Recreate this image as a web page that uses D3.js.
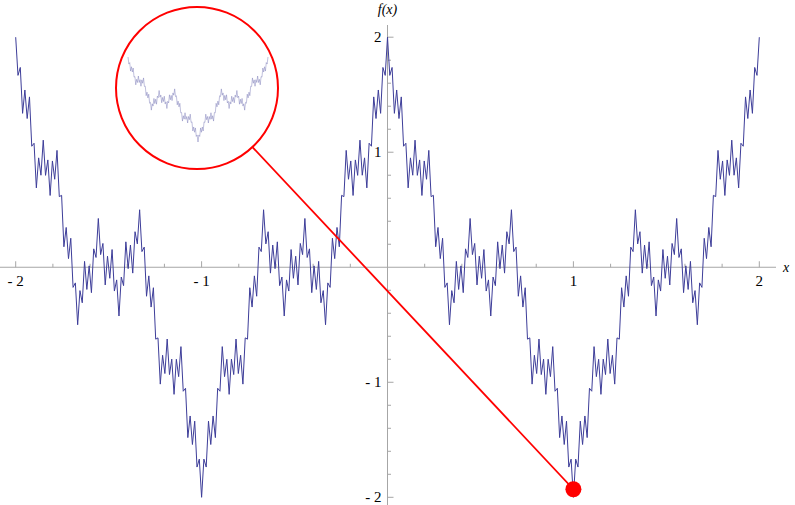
<!DOCTYPE html>
<html>
<head>
<meta charset="utf-8">
<script src="https://cdn.jsdelivr.net/npm/d3@7"></script>
<style>
  body { margin: 0; background: #fff; }
  svg { display: block; }
</style>
</head>
<body>
<svg id="chart" width="795" height="505"></svg>
<script>
// curve values, sampled every 1/81 along x
const xStart = -2;
const xStep = 1 / 81;
// x = -2 ... -1
const segA = [2.000,1.668,1.737,1.338,1.541,1.293,1.481,1.052,1.078,0.690,0.951,0.800,1.105,0.799,0.933,0.624,0.924,0.765,1.016,0.614,0.625,0.178,0.346,0.075,0.252,-0.175,-0.136,-0.500,-0.203,-0.309,0.051,-0.193,0.012,-0.221,0.160,0.085,0.424,0.110,0.207,-0.154,0.096,-0.096,0.154,-0.207,-0.110,-0.424,-0.085,-0.160,0.221,-0.012,0.193,-0.051,0.309,0.203,0.500,0.136,0.175,-0.252,-0.075,-0.346,-0.178,-0.625,-0.614,-1.016,-0.765,-0.924,-0.624,-0.933,-0.799,-1.105,-0.800,-0.951,-0.690,-1.078,-1.052,-1.481,-1.293,-1.541,-1.338,-1.737,-1.668,-2.000];
// x = -1+1/81 ... 0
const segB = [-1.668,-1.737,-1.338,-1.541,-1.293,-1.481,-1.052,-1.078,-0.690,-0.951,-0.800,-1.105,-0.799,-0.933,-0.624,-0.924,-0.765,-1.016,-0.614,-0.625,-0.178,-0.346,-0.075,-0.252,0.175,0.136,0.500,0.203,0.309,-0.051,0.193,-0.012,0.221,-0.160,-0.085,-0.424,-0.110,-0.207,0.154,-0.096,0.096,-0.154,0.207,0.110,0.424,0.085,0.160,-0.221,0.012,-0.193,0.051,-0.309,-0.203,-0.500,-0.136,-0.175,0.252,0.075,0.346,0.178,0.625,0.614,1.016,0.765,0.924,0.624,0.933,0.799,1.105,0.800,0.951,0.690,1.078,1.052,1.481,1.293,1.541,1.338,1.737,1.668,2.000];
// x = 1/81 ... 1
const segC = [1.668,1.737,1.338,1.541,1.293,1.481,1.052,1.078,0.690,0.951,0.800,1.105,0.799,0.933,0.624,0.924,0.765,1.016,0.614,0.625,0.178,0.346,0.075,0.252,-0.175,-0.136,-0.500,-0.203,-0.309,0.051,-0.193,0.012,-0.221,0.160,0.085,0.424,0.110,0.207,-0.154,0.096,-0.096,0.154,-0.207,-0.110,-0.424,-0.085,-0.160,0.221,-0.012,0.193,-0.051,0.309,0.203,0.500,0.136,0.175,-0.252,-0.075,-0.346,-0.178,-0.625,-0.614,-1.016,-0.765,-0.924,-0.624,-0.933,-0.799,-1.105,-0.800,-0.951,-0.690,-1.078,-1.052,-1.481,-1.293,-1.541,-1.338,-1.737,-1.668,-2.000];
// x = 1+1/81 ... 2
const segD = [-1.668,-1.737,-1.338,-1.541,-1.293,-1.481,-1.052,-1.078,-0.690,-0.951,-0.800,-1.105,-0.799,-0.933,-0.624,-0.924,-0.765,-1.016,-0.614,-0.625,-0.178,-0.346,-0.075,-0.252,0.175,0.136,0.500,0.203,0.309,-0.051,0.193,-0.012,0.221,-0.160,-0.085,-0.424,-0.110,-0.207,0.154,-0.096,0.096,-0.154,0.207,0.110,0.424,0.085,0.160,-0.221,0.012,-0.193,0.051,-0.309,-0.203,-0.500,-0.136,-0.175,0.252,0.075,0.346,0.178,0.625,0.614,1.016,0.765,0.924,0.624,0.933,0.799,1.105,0.800,0.951,0.690,1.078,1.052,1.481,1.293,1.541,1.338,1.737,1.668,2.000];

const xTicks = [-2, -1, 1, 2];
const yTicks = [-2, -1, 1, 2];
const zoomSpot = { x: 1, y: -1.93 };

const width = 795, height = 505;
const serif = "'Liberation Serif', 'DejaVu Serif', serif";
const svg = d3.select("#chart");

const x = d3.scaleLinear().domain([-2, 2]).range([15.7, 759.3]);
const y = d3.scaleLinear().domain([-2, 2]).range([497.3, 37.2]);

const points = segA.concat(segB, segC, segD).map((v, i) => ({ x: xStart + i * xStep, y: v }));

const axisColor = "#a6a6a6";
const fmt = v => v < 0 ? "- " + Math.abs(v) : String(v);

// axes
svg.append("line")
    .attr("x1", 0).attr("x2", 776)
    .attr("y1", y(0)).attr("y2", y(0))
    .attr("stroke", axisColor).attr("stroke-width", 1);
svg.append("line")
    .attr("x1", x(0)).attr("x2", x(0))
    .attr("y1", 25).attr("y2", height)
    .attr("stroke", axisColor).attr("stroke-width", 1);

const minor = d3.range(-10, 11).map(d => d / 5).filter(d => d !== 0);

svg.append("g").selectAll("line")
    .data(minor)
    .enter().append("line")
    .attr("x1", d => x(d)).attr("x2", d => x(d))
    .attr("y1", y(0)).attr("y2", d => y(0) - (Number.isInteger(d) ? 6 : 3.5))
    .attr("stroke", axisColor);

svg.append("g").selectAll("line")
    .data(minor)
    .enter().append("line")
    .attr("y1", d => y(d)).attr("y2", d => y(d))
    .attr("x1", x(0)).attr("x2", d => x(0) + (Number.isInteger(d) ? 6 : 3.5))
    .attr("stroke", axisColor);

svg.append("g").selectAll("text")
    .data(xTicks)
    .enter().append("text")
    .attr("x", d => x(d)).attr("y", y(0) + 19)
    .attr("text-anchor", "middle")
    .attr("font-family", serif).attr("font-size", 15)
    .text(fmt);

svg.append("g").selectAll("text")
    .data(yTicks)
    .enter().append("text")
    .attr("x", x(0) - 6).attr("y", d => y(d) + 5)
    .attr("text-anchor", "end")
    .attr("font-family", serif).attr("font-size", 15)
    .text(fmt);

svg.append("text")
    .attr("x", x(0)).attr("y", 14)
    .attr("text-anchor", "middle")
    .attr("font-family", serif).attr("font-size", 14)
    .attr("font-style", "italic")
    .text("f(x)");

svg.append("text")
    .attr("x", 786).attr("y", y(0) + 5)
    .attr("text-anchor", "middle")
    .attr("font-family", serif).attr("font-size", 14)
    .attr("font-style", "italic")
    .text("x");

// main curve
const line = d3.line().x(d => x(d.x)).y(d => y(d.y));
svg.append("path")
    .datum(points)
    .attr("d", line)
    .attr("fill", "none")
    .attr("stroke", "#3d3d99")
    .attr("stroke-width", 1)
    .attr("stroke-linejoin", "round");

// magnifier
const cx = 197, cy = 88, r = 81;
const px = x(zoomSpot.x), py = y(zoomSpot.y);
const ang = Math.atan2(py - cy, px - cx);

svg.append("line")
    .attr("x1", cx + r * Math.cos(ang)).attr("y1", cy + r * Math.sin(ang))
    .attr("x2", px).attr("y2", py)
    .attr("stroke", "#ff0000").attr("stroke-width", 1.8);

svg.append("circle")
    .attr("cx", cx).attr("cy", cy).attr("r", r)
    .attr("fill", "#fff")
    .attr("stroke", "#ff0000").attr("stroke-width", 2);

const xi = d3.scaleLinear().domain([0, 2]).range([128, 268]);
const yi = d3.scaleLinear().domain([-2, 2]).range([142, 57]);
svg.append("path")
    .datum(points.filter(d => d.x >= -1e-9))
    .attr("d", d3.line().x(d => xi(d.x)).y(d => yi(d.y)))
    .attr("fill", "none")
    .attr("stroke", "#7a7ab8")
    .attr("stroke-opacity", 0.8)
    .attr("stroke-width", 0.6);

svg.append("circle")
    .attr("cx", px).attr("cy", py).attr("r", 8)
    .attr("fill", "#ff0000");
</script>
</body>
</html>
